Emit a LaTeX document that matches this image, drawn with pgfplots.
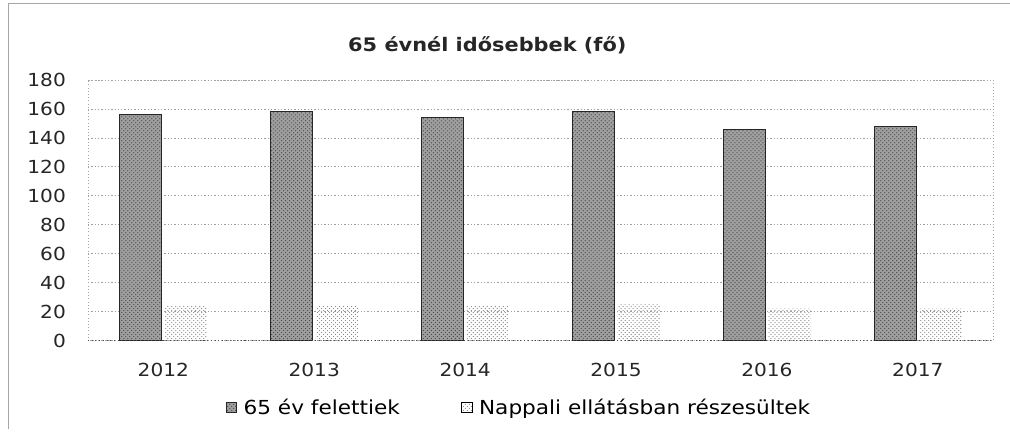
\documentclass[border=0pt]{standalone}
\usepackage{pgfplots}
\pgfplotsset{compat=1.18}
\usetikzlibrary{patterns}
\usepackage{fontspec}
\setmainfont{DejaVu Sans}[FakeStretch=1.12]
\begin{document}
\begin{tikzpicture}
\path (-66pt,-70.5pt) rectangle (692.25pt,255.75pt);
\draw[gray!70, line width=0.6pt] (-60pt,-66.75pt) -- (-60pt,253.5pt) -- (692.25pt,253.5pt);
\begin{axis}[
  at={(0pt,0pt)}, anchor=south west,
  scale only axis, width=680pt, height=195.75pt,
  ymin=0, ymax=180, ytick={0,20,...,180},
  xmin=-0.5, xmax=5.5, xtick={0,...,5},
  xticklabels={2012,2013,2014,2015,2016,2017},
  ybar=2.5pt, bar width=31.5pt,
  axis line style={gray!70, dotted},
  ymajorgrids, major grid style={gray!75, dash pattern=on 1pt off 1.5pt},
  tick style={draw=none},
  tick label style={font=\fontsize{13.5}{15}\selectfont, text=black!85},
  /pgf/number format/assume math mode=true,
  yticklabel style={xshift=-13pt},
  xticklabel style={yshift=-9pt},
  legend style={at={(324pt,-50.25pt)}, anchor=center, draw=none, legend columns=2,
    font=\fontsize{14.5}{16}\selectfont, /tikz/every even column/.append style={column sep=44pt},
    /tikz/every odd column/.append style={column sep=3pt}},
  legend image code/.code={\draw[#1] (0pt,-4pt) rectangle (8pt,4pt);},
]
\addplot[draw=black!85, fill=gray!75, postaction={pattern=crosshatch dots, pattern color=black!70}] coordinates {(0,156) (1,158) (2,154) (3,158) (4,146) (5,148)};
\addplot[draw=none, pattern=crosshatch dots, pattern color=gray!90] coordinates {(0,24) (1,24) (2,24) (3,25) (4,22) (5,22)};
\legend{65 év felettiek, Nappali ellátásban részesültek}
\draw[black!70, dotted, line width=0.8pt] (axis cs:-0.5,0) -- (axis cs:5.5,0);
\end{axis}
\node[font=\bfseries\fontsize{14}{16}\selectfont, text=black!85] at (300pt,222pt) {65 évnél idősebbek (fő)};
\end{tikzpicture}
\end{document}
